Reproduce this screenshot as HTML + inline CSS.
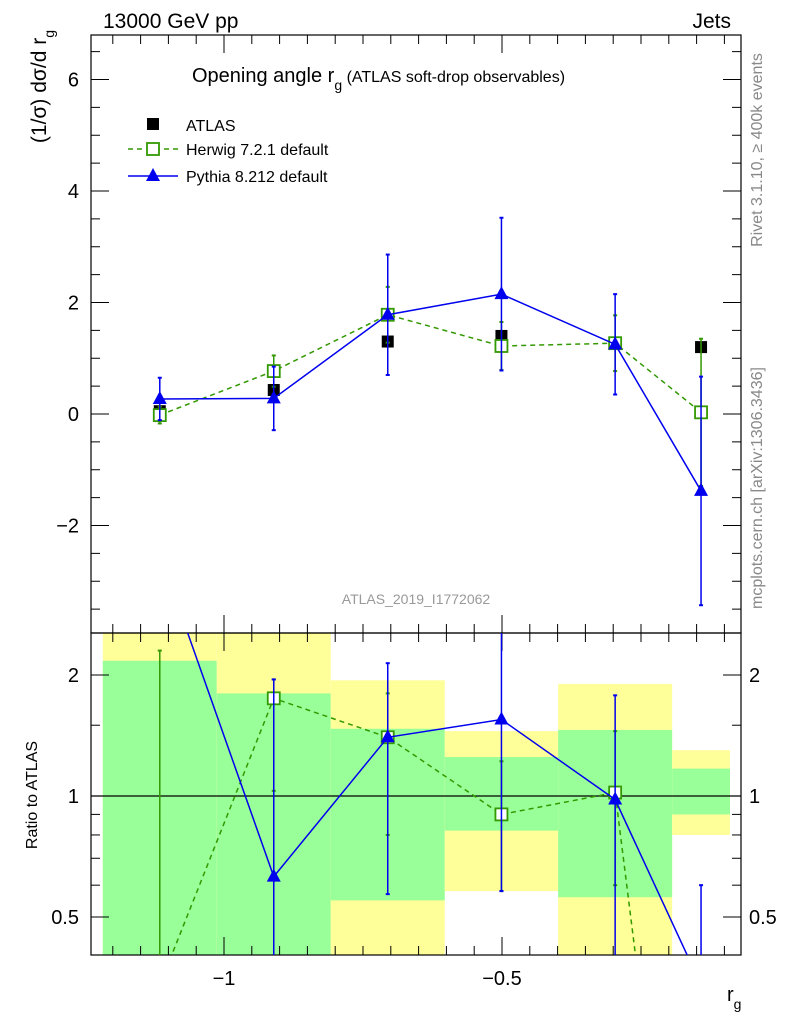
<!DOCTYPE html>
<html><head><meta charset="utf-8"><style>
html,body{margin:0;background:#fff;font-family:"Liberation Sans",sans-serif;overflow:hidden;width:786px;height:1024px}
svg{display:block}
svg text{font-family:"Liberation Sans","DejaVu Sans",sans-serif}
</style></head><body>
<svg id="c" width="786" height="1024" viewBox="0 0 786 1024" overflow="hidden" xmlns="http://www.w3.org/2000/svg"></svg>
<script>
const binEdges=[-1.218,-1.013,-0.808,-0.603,-0.399,-0.194,-0.090];
const atlasVals=[0.05,0.43,1.3,1.4,1.27,1.2];
const herwigVals=[-0.02,0.77,1.78,1.22,1.27,0.03];
const herwigErr=[0.15,0.28,0.5,0.43,0.5,1.32];
const pythiaVals=[0.27,0.28,1.78,2.15,1.25,-1.38];
const pythiaErr=[0.38,0.57,1.08,1.37,0.9,2.05];
const herwigRatio=[-0.4,1.75,1.4,0.9,1.02,0.02];
const herwigRatioErr=[[0.3,2.3],[1.03,1.95],[0.8,1.8],[0.58,1.22],[0.6,1.45],[0.3,0.31]];
const pythiaRatio=[4,0.63,1.4,1.55,0.98,-1.15];
const pythiaRatioErr=[[3.9,4.1],[0.3,1.95],[0.57,2.14],[0.58,3],[0.3,1.78],[0.3,0.6]];
const yellowHi=[3,3,1.94,1.45,1.9,1.3];
const yellowLo=[0.3,0.3,0.3,0.58,0.3,0.8];
const greenHi=[2.17,1.8,1.47,1.25,1.46,1.17];
const greenLo=[0.3,0.3,0.55,0.82,0.56,0.9];
const yTicks=[-2,0,2,4,6];
const xTicks=[-1,-0.5];
const rTicks=[0.5,1,2];
const xCenters=binEdges.slice(0,-1).map((e,i)=>(e+binEdges[i+1])/2);

const NS="http://www.w3.org/2000/svg",svg=document.getElementById('c');
const L=91,R=741,T=35,M=633,B=955;
const X=v=>224+(v+1)*556;
const Y=v=>414-v*55.75;
const RY=v=>796-Math.log2(v)*121;
const clampY=y=>Math.max(T-5,Math.min(B+5,y));
function el(t,a,p){const e=document.createElementNS(NS,t);for(const k in a)e.setAttribute(k,a[k]);(p||svg).appendChild(e);return e;}
function txt(s,x,y,a,p){const e=el('text',Object.assign({x:x,y:y,'font-size':20,fill:'#000'},a),p);e.textContent=s;return e;}
const defs=el('defs',{});
const cm=el('clipPath',{id:'cm'},defs);el('rect',{x:L,y:T,width:R-L,height:M-T},cm);
const cr=el('clipPath',{id:'cr'},defs);el('rect',{x:L,y:M,width:R-L,height:B-M},cr);
const gb=el('g',{'clip-path':'url(#cr)'});

for(let i=0;i<6;i++){
 const x0=X(binEdges[i]),x1=X(binEdges[i+1]);
 const yt=clampY(RY(yellowHi[i])),yb=clampY(RY(yellowLo[i])),gt=clampY(RY(greenHi[i])),gbm=clampY(RY(greenLo[i]));
 const y=el('rect',{x:x0,y:yt,width:x1-x0,height:yb-yt,fill:'#ffff99'},gb);
 
 const g=el('rect',{x:x0,y:gt,width:x1-x0,height:gbm-gt,fill:'#99ff99'},gb);
 
}
el('line',{x1:L,x2:R,y1:RY(1),y2:RY(1),stroke:'#000','stroke-width':1.2});
el('rect',{x:L,y:T,width:R-L,height:M-T,fill:'none',stroke:'#000','stroke-width':1.2});
el('rect',{x:L,y:M,width:R-L,height:B-M,fill:'none',stroke:'#000','stroke-width':1.2});
yTicks.forEach(v=>{const y=Y(v);el('line',{x1:L,x2:L+18,y1:y,y2:y,stroke:'#000'});el('line',{x1:R-18,x2:R,y1:y,y2:y,stroke:'#000'});
 const t=txt(v<0?'\u2212'+(-v):''+v,L-12,y+7,{'text-anchor':'end'});});
for(let v=-3.5;v<=6.5;v+=0.5){if(v%2===0)continue;const y=Y(v);el('line',{x1:L,x2:L+9,y1:y,y2:y,stroke:'#000'});el('line',{x1:R-9,x2:R,y1:y,y2:y,stroke:'#000'});}
for(let v=-1.2;v<=-0.07;v+=0.05){const x=X(v);const big=Math.abs(v*2-Math.round(v*2))<1e-6;const h=big?18:9;
 [[T,T+h],[M,M-h],[M,M+h],[B,B-h]].forEach(p=>el('line',{x1:x,x2:x,y1:p[0],y2:p[1],stroke:'#000'}));}
xTicks.forEach(v=>{const t=txt('\u2212'+(-v),X(v),985,{'text-anchor':'middle'});});
rTicks.forEach(v=>{const y=RY(v);el('line',{x1:L,x2:L+18,y1:y,y2:y,stroke:'#000'});el('line',{x1:R-18,x2:R,y1:y,y2:y,stroke:'#000'});
 const t=txt(''+v,L-12,y+7,{'text-anchor':'end'});
 const t2=txt(''+v,R+8,y+7,{});});
[0.6,0.7,0.8,0.9,1.5].forEach(v=>{const y=RY(v);el('line',{x1:L,x2:L+9,y1:y,y2:y,stroke:'#000'});el('line',{x1:R-9,x2:R,y1:y,y2:y,stroke:'#000'});});
function series(vals,errs,col,dash,marker,name,clip,yf,errPairs){
 const g=el('g',{'clip-path':clip});
 const pts=vals.map((v,i)=>[X(xCenters[i]),yf(v)]);
 el('polyline',{points:pts.map(p=>p.join(',')).join(' '),fill:'none',stroke:col,'stroke-width':1.5,'stroke-dasharray':dash||''},g);
 vals.forEach((v,i)=>{const x=pts[i][0];let y1,y2;
  if(errPairs){y1=yf(errPairs[i][1]);y2=yf(errPairs[i][0]);}else{y1=yf(v+errs[i]);y2=yf(v-errs[i]);}
  y1=clampY(y1);y2=clampY(y2);
  el('line',{x1:x,x2:x,y1:y1,y2:y2,stroke:col,'stroke-width':1.5},g);
  el('line',{x1:x-2,x2:x+2,y1:y1,y2:y1,stroke:col,'stroke-width':2},g);el('line',{x1:x-2,x2:x+2,y1:y2,y2:y2,stroke:col,'stroke-width':2},g);
  const y=pts[i][1];
  if(y<T-10||y>B+10)return;
  if(marker==='sq'){const m=el('rect',{x:x-6,y:y-6,width:12,height:12,fill:'#fff',stroke:col,'stroke-width':1.8},g);}
  else if(marker==='tri'){const m=el('polygon',{points:`${x},${y-8} ${x-7},${y+5} ${x+7},${y+5}`,fill:col},g);}
 });
}
const ga=el('g',{'clip-path':'url(#cm)'});
atlasVals.forEach((v,i)=>{const m=el('rect',{x:X(xCenters[i])-6,y:Y(v)-6,width:12,height:12,fill:'#000'},ga);});
series(herwigVals,herwigErr,'#339900','5,4','sq','herwig-series','url(#cm)',Y);
series(pythiaVals,pythiaErr,'#0000ee','','tri','pythia-series','url(#cm)',Y);
const RYs=v=>v<=0?B+30:RY(v);
series(herwigRatio,null,'#339900','5,4','sq','herwig-ratio','url(#cr)',RYs,herwigRatioErr);
series(pythiaRatio,null,'#0000ee','','tri','pythia-ratio','url(#cr)',RYs,pythiaRatioErr);
let t;
t=txt('13000 GeV pp',103,28,{'font-size':21});
t=txt('Jets',731,28,{'font-size':21,'text-anchor':'end'});
t=el('text',{x:192,y:82,'font-size':20});t.innerHTML='Opening angle r<tspan font-size="14" dy="8">g</tspan><tspan font-size="16" dy="-8"> (ATLAS soft-drop observables)</tspan>';
t=el('text',{transform:'translate(46,30) rotate(-90)','font-size':21,'text-anchor':'end'});t.innerHTML='(1/σ) dσ/d r<tspan font-size="14" dy="8">g</tspan>';
t=el('text',{transform:'translate(37,795) rotate(-90)','font-size':16,'text-anchor':'middle'});t.textContent='Ratio to ATLAS';
t=el('text',{x:727,y:1001,'font-size':20});t.innerHTML='r<tspan font-size="14" dy="8">g</tspan>';
t=txt('ATLAS_2019_I1772062',416,604,{'font-size':14,fill:'#999','text-anchor':'middle'});
t=el('text',{transform:'translate(762,150) rotate(-90)','font-size':16,fill:'#888','text-anchor':'middle'});t.textContent='Rivet 3.1.10, ≥ 400k events';
t=el('text',{transform:'translate(762,488) rotate(-90)','font-size':16,fill:'#888','text-anchor':'middle'});t.textContent='mcplots.cern.ch [arXiv:1306.3436]';
const lg=el('g',{});
el('rect',{x:147,y:118,width:12,height:12,fill:'#000'},lg);
t=txt('ATLAS',186,131,{'font-size':16},lg);
el('line',{x1:128,x2:178,y1:149,y2:149,stroke:'#339900','stroke-width':1.5,'stroke-dasharray':'5,4'},lg);
el('rect',{x:147,y:143,width:12,height:12,fill:'#fff',stroke:'#339900','stroke-width':1.8},lg);
t=txt('Herwig 7.2.1 default',186,155,{'font-size':16},lg);
el('line',{x1:128,x2:178,y1:176,y2:176,stroke:'#0000ee','stroke-width':1.5},lg);
el('polygon',{points:'153,168 146,181 160,181',fill:'#0000ee'},lg);
t=txt('Pythia 8.212 default',186,182,{'font-size':16},lg);
</script>
</body></html>
